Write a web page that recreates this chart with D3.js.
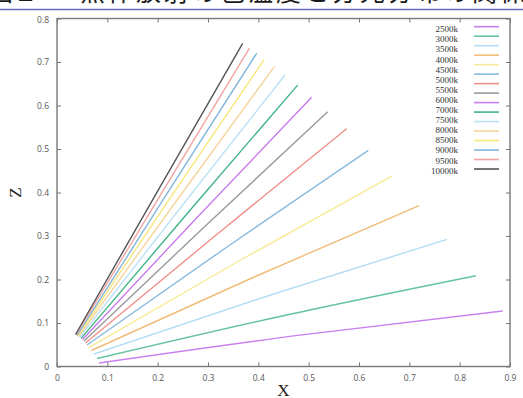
<!DOCTYPE html>
<html>
<head>
<meta charset="utf-8">
<script src="https://cdn.jsdelivr.net/npm/d3@7"></script>
<style>
  html, body { margin: 0; padding: 0; background: #fff; overflow: hidden; }
  svg { display: block; }
</style>
</head>
<body>
<svg id="chart" width="523" height="398"></svg>
<script>
// colour temperatures (K) and each curve's points [x, z]: start, middle, end
const temps = [2500, 3000, 3500, 4000, 4500, 5000, 5500, 6000, 6500, 7000, 7500, 8000, 8500, 9000, 9500, 10000];
const curveX = [
  [0.0834, 0.4828, 0.8855],
  [0.0795, 0.4560, 0.8325],
  [0.0735, 0.4242, 0.7748],
  [0.0685, 0.3939, 0.7192],
  [0.0636, 0.3649, 0.6662],
  [0.0596, 0.3390, 0.6185],
  [0.0566, 0.3161, 0.5756],
  [0.0536, 0.2957, 0.5378],
  [0.0507, 0.2783, 0.5060],
  [0.0477, 0.2630, 0.4782],
  [0.0447, 0.2488, 0.4530],
  [0.0427, 0.2372, 0.4317],
  [0.0407, 0.2263, 0.4119],
  [0.0397, 0.2182, 0.3968],
  [0.0377, 0.2099, 0.3821],
  [0.0368, 0.2028, 0.3689]
];
const curveZ = [
  [0.0080, 0.0720, 0.1276],
  [0.0184, 0.1184, 0.2087],
  [0.0287, 0.1644, 0.2924],
  [0.0368, 0.2069, 0.3697],
  [0.0437, 0.2448, 0.4386],
  [0.0494, 0.2759, 0.4970],
  [0.0540, 0.3023, 0.5467],
  [0.0586, 0.3241, 0.5857],
  [0.0621, 0.3425, 0.6189],
  [0.0644, 0.3575, 0.6471],
  [0.0667, 0.3701, 0.6701],
  [0.0690, 0.3805, 0.6892],
  [0.0701, 0.3897, 0.7062],
  [0.0713, 0.3966, 0.7200],
  [0.0724, 0.4028, 0.7315],
  [0.0736, 0.4090, 0.7430]
];
const colors = [
  '#c880ee', '#66c49c', '#b4dcf2', '#f0bc78', '#f6ea94', '#88bade', '#f0908a', '#9a9a9a',
  '#c87aee', '#3fb585', '#bce2f6', '#f6d49c', '#f6e67c', '#80b6dc', '#f2a4a2', '#555555'
];
// legend labels as printed (one fewer than the swatches)
const legendLabels = ['2500k', '3000k', '3500k', '4000k', '4500k', '5000k', '5500k', '6000k',
  '7000k', '7500k', '8000k', '8500k', '9000k', '9500k', '10000k'];
const xTicks = [0, 0.1, 0.2, 0.3, 0.4, 0.5, 0.6, 0.7, 0.8, 0.9];
const zTicks = [0, 0.1, 0.2, 0.3, 0.4, 0.5, 0.6, 0.7, 0.8];
const titleHead = '図２：';
const titleBody = '黒体放射の色温度と分光分布の関係';

const svg = d3.select('#chart');
const W = 523, H = 398;
const plot = { left: 57, right: 510, top: 18.5, bottom: 366.5 };

// cut-off page heading (only the lower edge shows)
const head = svg.append('text')
  .attr('y', 0.5)
  .style('font-family', '"Noto Sans CJK JP", sans-serif')
  .style('font-size', '25px')
  .style('fill', '#1a1a1a');
head.append('tspan').attr('x', -12).text(titleHead);
head.append('tspan').attr('x', 80).attr('textLength', 445).text(titleBody);
svg.append('line')
  .attr('x1', 0).attr('x2', W)
  .attr('y1', 9.5).attr('y2', 9.5)
  .attr('stroke', '#6a6ac0')
  .attr('stroke-width', 1.4);

const x = d3.scaleLinear().domain([0, 0.9]).range([plot.left, plot.right]);
const y = d3.scaleLinear().domain([0, 0.8]).range([plot.bottom, plot.top]);

const tickFont = g => g.selectAll('text')
  .style('font-family', '"Open Sans", sans-serif')
  .style('font-size', '8.5px')
  .style('fill', '#555');

// axes with inward ticks on all four sides
const gx = svg.append('g').attr('transform', `translate(0,${plot.bottom})`)
  .call(d3.axisBottom(x).tickValues(xTicks).tickFormat(d3.format('')).tickSizeInner(-4).tickSizeOuter(0).tickPadding(8));
const gxt = svg.append('g').attr('transform', `translate(0,${plot.top})`)
  .call(d3.axisTop(x).tickValues(xTicks).tickFormat('').tickSizeInner(-4).tickSizeOuter(0));
const gy = svg.append('g').attr('transform', `translate(${plot.left},0)`)
  .call(d3.axisLeft(y).tickValues(zTicks).tickFormat(d3.format('')).tickSizeInner(-4).tickSizeOuter(0).tickPadding(8));
const gyr = svg.append('g').attr('transform', `translate(${plot.right},0)`)
  .call(d3.axisRight(y).tickValues(zTicks).tickFormat('').tickSizeInner(-4).tickSizeOuter(0));

[gx, gxt, gy, gyr].forEach(g => {
  g.select('.domain').remove();
  g.selectAll('.tick line').attr('stroke', '#777').attr('stroke-width', 1);
  tickFont(g);
});
gy.selectAll('.tick').filter(d => d === 0.8).select('text').attr('dy', '0.5em');

svg.append('rect')
  .attr('x', plot.left).attr('y', plot.top)
  .attr('width', plot.right - plot.left).attr('height', plot.bottom - plot.top)
  .attr('fill', 'none')
  .attr('stroke', '#7a7a7a')
  .attr('stroke-width', 1.4);

// curves
const line = d3.line().x(d => x(d[0])).y(d => y(d[1])).curve(d3.curveNatural);
const series = temps.map((t, i) => ({ t, pts: curveX[i].map((v, j) => [v, curveZ[i][j]]), color: colors[i] }));
svg.append('g').selectAll('path')
  .data(series)
  .join('path')
  .attr('d', d => line(d.pts))
  .attr('fill', 'none')
  .attr('stroke', d => d.color)
  .attr('stroke-width', 1.4);

// legend
const swY = d3.scaleLinear().domain([0, temps.length - 1]).range([26.7, 169]);
const lbY = d3.scaleLinear().domain([0, legendLabels.length - 1]).range([29.3, 170.7]);
const leg = svg.append('g');
leg.selectAll('line')
  .data(series)
  .join('line')
  .attr('x1', 474).attr('x2', 499)
  .attr('y1', (d, i) => swY(i)).attr('y2', (d, i) => swY(i))
  .attr('stroke', d => d.color)
  .attr('stroke-width', 1.6);
leg.selectAll('text')
  .data(legendLabels)
  .join('text')
  .attr('x', 458)
  .attr('y', (d, i) => lbY(i))
  .attr('dy', '0.33em')
  .attr('text-anchor', 'end')
  .style('font-family', '"Liberation Serif", serif')
  .style('font-size', '9px')
  .style('fill', '#333')
  .text(d => d);

// axis titles
svg.append('text')
  .attr('x', x(0.45)).attr('y', 396)
  .attr('text-anchor', 'middle')
  .style('font-family', '"Liberation Serif", serif')
  .style('font-size', '17px')
  .style('fill', '#222')
  .text('X');
svg.append('text')
  .attr('transform', `translate(21,${y(0.4)}) rotate(-90)`)
  .attr('text-anchor', 'middle')
  .style('font-family', '"Liberation Serif", serif')
  .style('font-size', '17px')
  .style('fill', '#222')
  .text('Z');
</script>
</body>
</html>
